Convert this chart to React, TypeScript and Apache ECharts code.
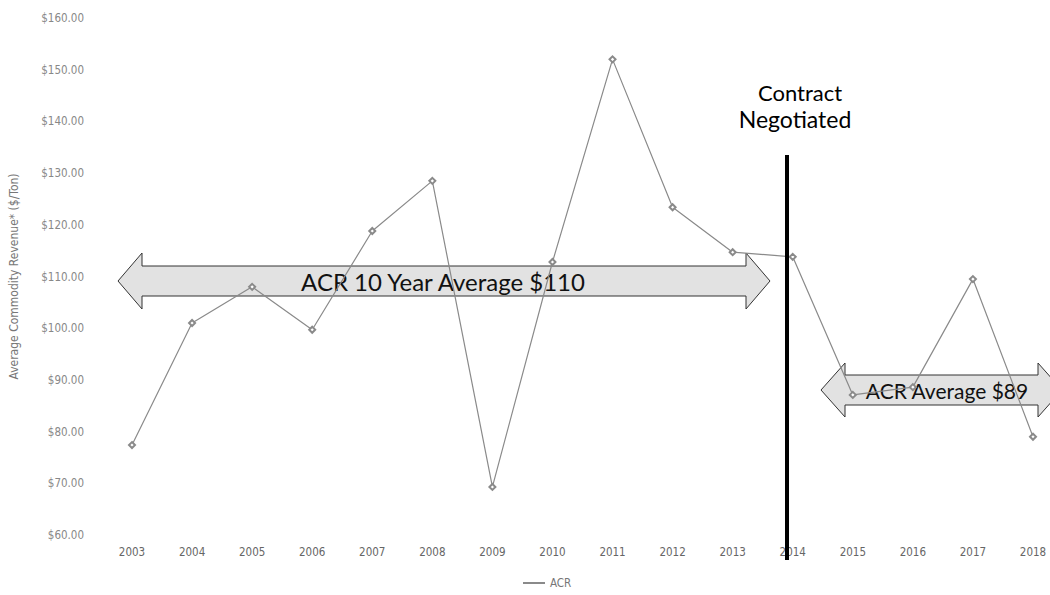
import React, { useEffect, useRef } from "react";
import * as echarts from "echarts";

const years = ["2003","2004","2005","2006","2007","2008","2009","2010","2011","2012","2013","2014","2015","2016","2017","2018"];
const acr = [77.4, 101.0, 108.0, 99.7, 118.8, 128.5, 69.3, 112.8, 152.0, 123.4, 114.7, 113.8, 87.1, 88.6, 109.5, 79.0];
const seriesName = "ACR";
const yTitle = "Average Commodity Revenue* ($/Ton)";
const arrow1Text = "ACR 10 Year Average $110";
const arrow2Text = "ACR Average $89";
const contractLines = ["Contract", "Negotiated"];

function arrowPoints(x1: number, x2: number, cy: number, h: number, H: number, L: number) {
  return [
    [x1, cy], [x1 + L, cy - H], [x1 + L, cy - h], [x2 - L, cy - h], [x2 - L, cy - H],
    [x2, cy], [x2 - L, cy + H], [x2 - L, cy + h], [x1 + L, cy + h], [x1 + L, cy + H],
  ];
}

export default function App() {
  const ref = useRef<HTMLDivElement>(null);
  useEffect(() => {
    document.body.style.margin = "0";
    const chart = echarts.init(ref.current!, null, { renderer: "svg" });
    const labelFont = "'DejaVu Sans Condensed', 'Liberation Sans', sans-serif";
    const bigFont = "Lato, 'Open Sans', sans-serif";
    chart.setOption({
      animation: false,
      backgroundColor: "#ffffff",
      grid: { left: 130, right: 17, top: 18, bottom: 60 },
      legend: {
        data: [seriesName],
        top: 572,
        left: 518,
        itemWidth: 22,
        itemHeight: 2,
        icon: "rect",
        itemGap: 4,
        textStyle: { color: "#777", fontSize: 11.5, fontFamily: labelFont },
      },
      xAxis: {
        type: "category",
        data: years,
        boundaryGap: false,
        axisLine: { show: false },
        axisTick: { show: false },
        axisLabel: { color: "#666", fontSize: 11.5, margin: 11, fontFamily: labelFont },
        splitLine: { show: false },
      },
      yAxis: {
        type: "value",
        min: 60,
        max: 160,
        interval: 10,
        name: yTitle,
        nameLocation: "middle",
        nameGap: 112,
        nameTextStyle: { color: "#777", fontSize: 12, fontFamily: labelFont },
        axisLine: { show: false },
        axisTick: { show: false },
        splitLine: { show: false },
        axisLabel: {
          color: "#888",
          fontSize: 11.5,
          margin: 48,
          fontFamily: labelFont,
          formatter: (v: number) => "$" + v.toFixed(2),
        },
      },
      series: [
        {
          name: seriesName,
          type: "line",
          data: acr,
          symbol: "emptyDiamond",
          symbolSize: 6,
          z: 5,
          lineStyle: { color: "#8a8a8a", width: 1.2 },
          itemStyle: { color: "#8a8a8a", borderWidth: 1 },
        },
      ],
      graphic: [
        {
          type: "polygon",
          shape: { points: arrowPoints(118, 770, 281, 15, 28, 24) },
          style: { fill: "#e2e2e2", stroke: "#333", lineWidth: 1 },
          z: 1,
        },
        {
          type: "text",
          x: 443,
          y: 281,
          style: {
            text: arrow1Text,
            fill: "#111",
            font: "24px " + bigFont,
            align: "center",
            verticalAlign: "middle",
          },
          z: 1,
        },
        {
          type: "polygon",
          shape: { points: arrowPoints(821, 1062, 390, 15, 27, 24) },
          style: { fill: "#e2e2e2", stroke: "#333", lineWidth: 1 },
          z: 1,
        },
        {
          type: "text",
          x: 947,
          y: 390,
          style: {
            text: arrow2Text,
            fill: "#111",
            font: "21px " + bigFont,
            align: "center",
            verticalAlign: "middle",
          },
          z: 1,
        },
        {
          type: "rect",
          shape: { x: 785, y: 155, width: 4, height: 405 },
          style: { fill: "#000" },
          z: 102,
        },
        {
          type: "text",
          x: 800,
          y: 92,
          style: {
            text: contractLines[0],
            fill: "#000",
            font: "22px " + bigFont,
            align: "center",
            verticalAlign: "middle",
          },
          z: 101,
        },
        {
          type: "text",
          x: 795,
          y: 119,
          style: {
            text: contractLines[1],
            fill: "#000",
            font: "23px " + bigFont,
            align: "center",
            verticalAlign: "middle",
          },
          z: 101,
        },
      ],
    });
    return () => chart.dispose();
  }, []);
  return <div ref={ref} style={{ width: 1050, height: 595 }} />;
}
